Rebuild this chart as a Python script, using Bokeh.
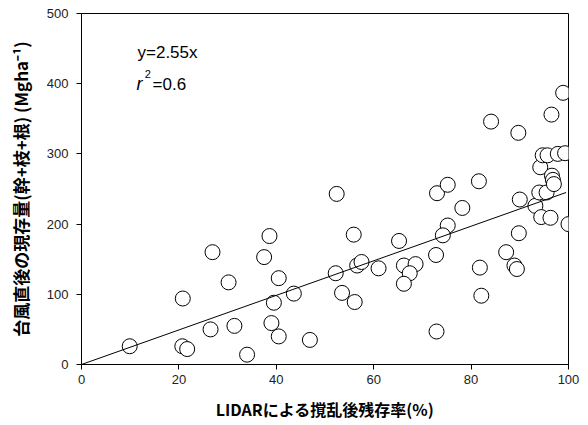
from bokeh.plotting import figure
from bokeh.models import Range1d, FixedTicker, Label
from bokeh.embed import file_html
from bokeh.resources import INLINE

# --- data ---
residual_rate = [9.9, 20.8, 20.7, 21.7, 26.9, 26.5, 30.2, 31.4, 34.0, 38.6,
                 37.5, 40.5, 39.5, 39.0, 40.5, 43.6, 46.9, 52.4, 52.2, 53.5,
                 56.1, 55.9, 56.6, 57.5, 61.0, 65.2, 66.2, 68.6, 67.4, 66.2,
                 72.9, 72.8, 73.0, 75.2, 75.2, 74.2, 78.2, 81.6, 81.8, 82.1,
                 84.1, 87.2, 88.9, 89.4, 89.7, 90.0, 89.8, 93.2, 94.0, 95.5,
                 94.2, 94.4, 96.3, 94.7, 95.7, 97.8, 99.3, 96.6, 96.8, 97.0,
                 96.5, 98.9, 100.0]
biomass = [26, 94, 26, 22, 160, 50, 117, 55, 14, 183,
           153, 123, 88, 59, 40, 101, 35, 243, 130, 102,
           89, 185, 141, 146, 137, 176, 141, 143, 130, 115,
           47, 156, 244, 256, 198, 184, 223, 261, 138, 98,
           346, 160, 141, 136, 330, 235, 187, 226, 245, 245,
           281, 210, 209, 298, 298, 300, 301, 269, 263, 257,
           356, 387, 200]
fit_x = [0, 99.5]
fit_y = [0, 245]
x_ticks = [0, 20, 40, 60, 80, 100]
y_ticks = [0, 100, 200, 300, 400, 500]

p = figure(width=588, height=425,
           x_range=Range1d(0, 100), y_range=Range1d(0, 500),
           output_backend="svg", toolbar_location=None,
           min_border_left=81, min_border_right=20,
           min_border_top=13, min_border_bottom=61)
p.background_fill_color = "white"
p.border_fill_color = "white"
p.outline_line_color = "black"
p.outline_line_width = 1
p.xgrid.visible = False
p.ygrid.visible = False

p.scatter(residual_rate, biomass, marker="circle", size=15,
          fill_color="white", line_color="black", line_width=1)
p.line(fit_x, fit_y, line_color="black", line_width=1)

for ax, ticks in ((p.xaxis[0], x_ticks), (p.yaxis[0], y_ticks)):
    ax.ticker = FixedTicker(ticks=ticks)
    ax.minor_tick_line_color = None
    ax.major_tick_in = 0
    ax.major_tick_out = 5
    ax.axis_line_color = "black"
    ax.major_tick_line_color = "black"
    ax.major_label_text_font = "Liberation Sans"
    ax.major_label_text_font_size = "13px"
    ax.major_label_text_color = "#222222"
    ax.axis_label_text_font = "Noto Sans CJK JP"
    ax.axis_label_text_font_style = "bold"
    ax.axis_label_text_color = "black"

p.xaxis.axis_label = "LIDARによる撹乱後残存率(%)"
p.xaxis.axis_label_text_font_size = "16px"
p.xaxis.major_label_standoff = 5
p.xaxis.axis_label_standoff = 10

p.yaxis.axis_label = "台風直後の現存量(幹+枝+根) (Mgha⁻¹)"
p.yaxis.axis_label_text_font_size = "17px"
p.yaxis.major_label_standoff = 8
p.yaxis.axis_label_standoff = 11

font = "Liberation Sans"
p.add_layout(Label(x=11.5, y=444, text="y=2.55x", text_font=font,
                   text_font_size="17px", text_baseline="alphabetic",
                   text_color="black"))
p.add_layout(Label(x=11.3, y=399, text="r", text_font=font,
                   text_font_style="italic", text_font_size="18px",
                   text_baseline="alphabetic", text_color="black"))
p.add_layout(Label(x=13.0, y=414, text="2", text_font=font,
                   text_font_size="11px", text_baseline="alphabetic",
                   text_color="black"))
p.add_layout(Label(x=14.6, y=399, text="=0.6", text_font=font,
                   text_font_size="17px", text_baseline="alphabetic",
                   text_color="black"))

open("out.html", "w").write(file_html(p, INLINE))
